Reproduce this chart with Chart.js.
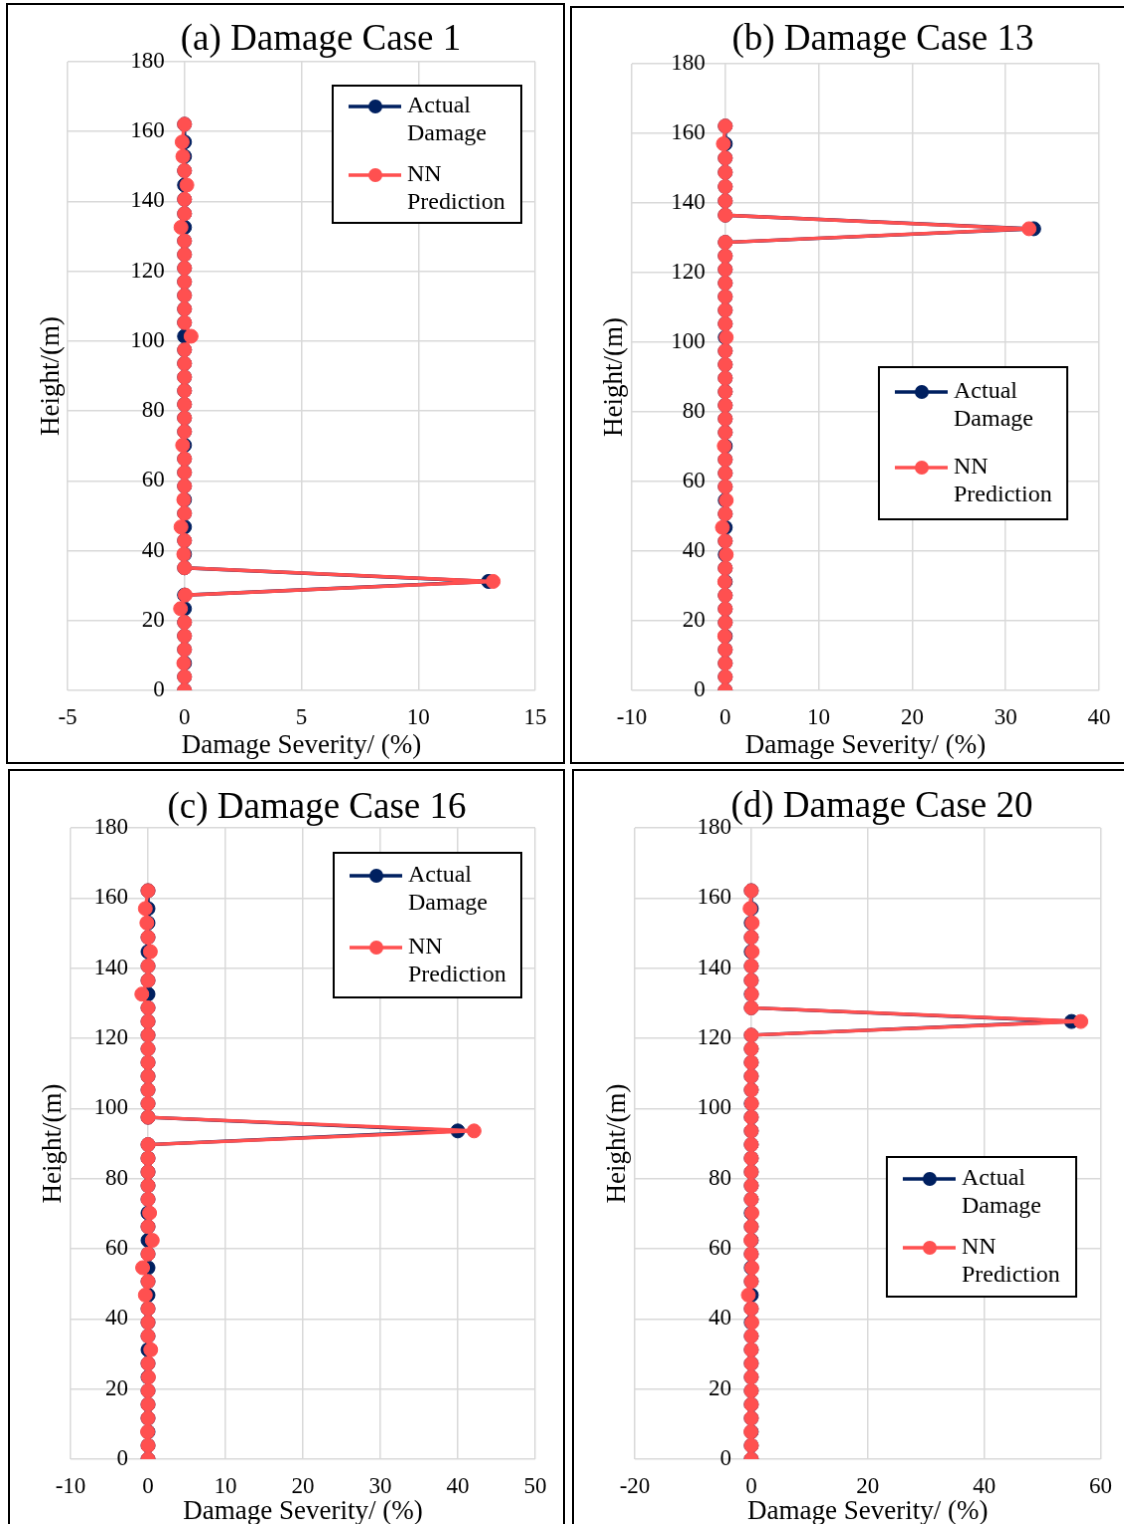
<!DOCTYPE html>
<html>
<head>
<meta charset="utf-8">
<script src="https://cdn.jsdelivr.net/npm/chart.js@4.4.1/dist/chart.umd.min.js"></script>
<style>
  html, body { margin: 0; padding: 0; background: #fff; overflow: hidden; width: 1128px; height: 1528px; }
  #page { position: relative; width: 1128px; height: 1528px; overflow: hidden; }
  canvas { position: absolute; border: 2px solid #000; }
  #cb { border-right: none; }
  #cc { border-bottom: none; }
  #cd { border-right: none; border-bottom: none; }
</style>
</head>
<body>
<div id="page">
<canvas id="ca"></canvas>
<canvas id="cb"></canvas>
<canvas id="cc"></canvas>
<canvas id="cd"></canvas>
</div>
<script>
// storey heights (m), shared by all four cases
const heights = [
  0, 3.9, 7.8, 11.7, 15.6, 19.5, 23.4, 27.3, 31.2, 35.1,
  39.0, 42.9, 46.8, 50.7, 54.6, 58.5, 62.4, 66.3, 70.2, 74.1,
  78.0, 81.9, 85.8, 89.7, 93.6, 97.5, 101.4, 105.3, 109.2, 113.1,
  117.0, 120.9, 124.8, 128.7, 132.6, 136.5, 140.6, 144.7, 148.8, 152.9,
  157.0, 162.1
];

// damage severity (%) per storey
const actualA = [0,0,0,0,0,0,0,0,13,0, 0,0,0,0,0,0,0,0,0,0, 0,0,0,0,0,0,0,0,0,0, 0,0,0,0,0,0,0,0,0,0, 0,0];
const nnA = [
  0, 0, -0.03, 0, 0, 0, -0.17, 0.03, 13.2, 0,
  -0.03, 0, -0.15, 0, -0.03, 0, 0, 0, -0.08, 0,
  0, 0, 0, 0, 0, 0, 0.28, 0, 0, 0,
  0, 0, 0, 0, -0.15, 0, 0, 0.1, 0, -0.07,
  -0.1, 0
];

const actualB = [0,0,0,0,0,0,0,0,0,0, 0,0,0,0,0,0,0,0,0,0, 0,0,0,0,0,0,0,0,0,0, 0,0,0,0,33,0,0,0,0,0, 0,0];
const nnB = [
  0, 0, 0, 0, -0.05, 0, 0, 0, -0.05, 0,
  0.1, 0, -0.3, 0, 0.1, 0, 0, 0, -0.1, 0,
  0, 0, 0, 0, 0, 0, 0.1, 0, 0, 0,
  0, 0, 0, 0, 32.5, 0, 0, 0, 0, 0,
  -0.2, 0
];

const actualC = [0,0,0,0,0,0,0,0,0,0, 0,0,0,0,0,0,0,0,0,0, 0,0,0,0,40,0,0,0,0,0, 0,0,0,0,0,0,0,0,0,0, 0,0];
const nnC = [
  0, 0, -0.05, 0, 0, 0, 0.05, 0, 0.35, 0,
  0, 0, -0.35, 0, -0.7, 0, 0.55, 0, 0.2, 0,
  0, 0, 0, 0, 42.1, 0, 0, 0, 0, 0,
  0, 0, 0, 0, -0.8, 0, 0, 0.3, 0, -0.15,
  -0.35, 0
];

const actualD = [0,0,0,0,0,0,0,0,0,0, 0,0,0,0,0,0,0,0,0,0, 0,0,0,0,0,0,0,0,0,0, 0,0,55,0,0,0,0,0,0,0, 0,0];
const nnD = [
  0, 0, -0.05, 0, 0, 0, 0, 0, 0, 0,
  0.1, 0, -0.5, 0, 0.1, 0, -0.05, 0, 0.1, 0,
  0, 0, 0, 0, 0, 0, 0.05, 0, 0, 0,
  0, 0, 56.6, 0, 0.05, 0, 0, 0.15, 0, 0.15,
  -0.2, 0
];

const titles = ["(a) Damage Case 1", "(b) Damage Case 13", "(c) Damage Case 16", "(d) Damage Case 20"];
const xRanges = [[-5, 15, 5], [-10, 40, 10], [-10, 50, 10], [-20, 60, 20]];
const seriesNames = ["Actual Damage", "NN Prediction"];

var FONT = '"Liberation Serif", "Times New Roman", serif';
var NAVY = "#002060";
var RED = "#ff5050";
var GRID = "#d9d9d9";
var LABEL_GAP = 20; // px between y tick labels and the x = 0 line

// the capture comes out a few px wider/taller than the window, so lay out on that grid
var SX = 1128 / 1124;
var SY = 1528 / 1524;
function px(v) { return Math.round(v * SX); }
function py(v) { return Math.round(v * SY); }

// layout in reference pixels: canvas content edges [l, t, r, b], plot area [l, t, r, b]
var panels = [
  { id: "ca", box: [8, 5, 565, 764], plot: [68, 62, 537, 692], title: [322, 40], yTitleX: 52, xTitleY: 748,
    legend: [334, 86, 190, 138], rows: [21, 90], actual: actualA, nn: nnA },
  { id: "cb", box: [570, 8, 1124, 764], plot: [630, 64, 1097, 692], title: [881, 40], yTitleX: 613, xTitleY: 748,
    legend: [877, 368, 189, 153], rows: [25, 101], actual: actualB, nn: nnB },
  { id: "cc", box: [10, 769, 565, 1524], plot: [71, 826, 537, 1457], title: [318, 806], yTitleX: 54, xTitleY: 1510,
    legend: [335, 851, 189, 145], rows: [23, 95], actual: actualC, nn: nnC },
  { id: "cd", box: [572, 769, 1124, 1524], plot: [633, 826, 1101, 1457], title: [880, 805], yTitleX: 616, xTitleY: 1510,
    legend: [885, 1155, 190, 140], rows: [22, 91], actual: actualD, nn: nnD }
];

var panelDecor = {
  id: "panelDecor",
  afterDraw: function (chart, args, opts) {
    var ctx = chart.ctx;
    ctx.save();
    // title
    ctx.fillStyle = "#000";
    ctx.font = "37px " + FONT;
    ctx.textAlign = "center";
    ctx.textBaseline = "middle";
    ctx.fillText(opts.title, opts.titleX, opts.titleY);
    // legend box
    var b = opts.legend;
    ctx.fillStyle = "#fff";
    ctx.fillRect(b[0], b[1], b[2], b[3]);
    ctx.lineWidth = 2;
    ctx.strokeStyle = "#000";
    ctx.strokeRect(b[0], b[1], b[2], b[3]);
    ctx.font = "24px " + FONT;
    ctx.textAlign = "left";
    chart.data.datasets.forEach(function (ds, k) {
      var y = b[1] + opts.rows[k];
      ctx.strokeStyle = ds.borderColor;
      ctx.lineWidth = 3.5;
      ctx.beginPath();
      ctx.moveTo(b[0] + 16, y);
      ctx.lineTo(b[0] + 69, y);
      ctx.stroke();
      ctx.fillStyle = ds.backgroundColor;
      ctx.beginPath();
      ctx.arc(b[0] + 43, y, 7, 0, Math.PI * 2);
      ctx.fill();
      ctx.fillStyle = "#000";
      ds.label.split(" ").forEach(function (word, j) {
        ctx.fillText(word, b[0] + 75, y + j * 28);
      });
    });
    ctx.restore();
  }
};

function toPoints(values) {
  return values.map(function (v, i) {
    return { x: v, y: heights[i] };
  });
}

panels.forEach(function (p, n) {
  var canvas = document.getElementById(p.id);
  var bl = px(p.box[0]), bt = py(p.box[1]);
  var br = p.box[2] >= 1124 ? 1128 : px(p.box[2]);
  var bb = p.box[3] >= 1524 ? 1528 : py(p.box[3]);
  var bw = br - bl, bh = bb - bt;
  canvas.width = bw;
  canvas.height = bh;
  canvas.style.width = bw + "px";
  canvas.style.height = bh + "px";
  canvas.style.left = (bl - 2) + "px";
  canvas.style.top = (bt - 2) + "px";

  var pl = px(p.plot[0]), pt = py(p.plot[1]), pr = px(p.plot[2]), pb = py(p.plot[3]);
  var leftW = pl - bl;
  var rightPad = br - pr;
  var topPad = pt - bt;
  var bottomH = bb - pb;
  var xr = xRanges[n];
  // the vertical axis crosses just left of x = 0 so its labels sit beside the zero line
  var axisCross = -LABEL_GAP * (xr[1] - xr[0]) / (pr - pl);

  var config = {
    type: "scatter",
    data: {
      datasets: [{
        label: seriesNames[0],
        data: toPoints(p.actual),
        showLine: true,
        borderColor: NAVY,
        backgroundColor: NAVY,
        pointBackgroundColor: NAVY,
        pointBorderColor: NAVY,
        borderWidth: 3.5,
        pointRadius: 7,
        pointBorderWidth: 1,
        xAxisID: "x",
        yAxisID: "y",
        order: 2
      }, {
        label: seriesNames[1],
        data: toPoints(p.nn),
        showLine: true,
        borderColor: RED,
        backgroundColor: RED,
        pointBackgroundColor: RED,
        pointBorderColor: RED,
        borderWidth: 3.5,
        pointRadius: 7,
        pointBorderWidth: 1,
        xAxisID: "x",
        yAxisID: "y",
        order: 1
      }]
    },
    options: {
      responsive: false,
      animation: false,
      devicePixelRatio: 1,
      layout: { padding: { top: topPad, right: rightPad, bottom: 0, left: 0 } },
      plugins: {
        legend: { display: false },
        tooltip: { enabled: false },
        panelDecor: {
          title: titles[n],
          titleX: px(p.title[0]) - bl,
          titleY: py(p.title[1]) - bt,
          legend: [px(p.legend[0]) - bl, py(p.legend[1]) - bt, p.legend[2], p.legend[3]],
          rows: p.rows
        }
      },
      scales: {
        x: {
          type: "linear",
          position: "bottom",
          min: xr[0],
          max: xr[1],
          ticks: { stepSize: xr[2], padding: 14, color: "#000", font: { family: FONT, size: 23 } },
          grid: { color: GRID, lineWidth: 1.5, drawTicks: false },
          border: { display: false },
          title: { display: true, text: "Damage Severity/ (%)", color: "#000",
                   font: { family: FONT, size: 27, lineHeight: 1 },
                   padding: { top: 0, bottom: (bb - py(p.xTitleY)) - 13.5 } },
          afterFit: function (s) { s.height = bottomH; }
        },
        y: {
          type: "linear",
          position: { x: axisCross },
          min: 0,
          max: 180,
          ticks: { stepSize: 20, padding: 0, color: "#000", font: { family: FONT, size: 23 } },
          grid: { color: GRID, lineWidth: 1.5, drawTicks: false },
          border: { display: false }
        },
        yTitle: {
          type: "linear",
          position: "left",
          min: 0,
          max: 180,
          ticks: { display: false },
          grid: { display: false, drawTicks: false },
          border: { display: false },
          title: { display: true, text: "Height/(m)", color: "#000",
                   font: { family: FONT, size: 27, lineHeight: 1 },
                   padding: { top: (px(p.yTitleX) - bl) - 13.5, bottom: 0 } },
          afterFit: function (s) { s.width = leftW; }
        }
      }
    },
    plugins: [panelDecor]
  };
  new Chart(canvas, config);
});
</script>
</body>
</html>
